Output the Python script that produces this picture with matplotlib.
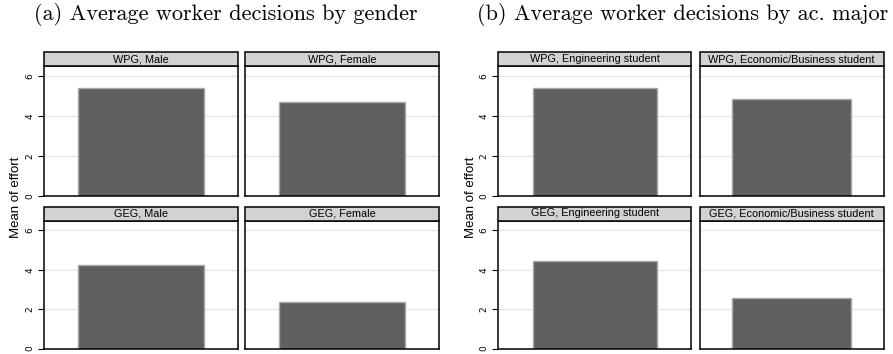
import numpy as np
import matplotlib
matplotlib.use("Agg")
import matplotlib.pyplot as plt
from matplotlib.patches import Rectangle

# panel data
gender_panels = ["WPG, Male", "WPG, Female", "GEG, Male", "GEG, Female"]
gender_effort = [5.42, 4.70, 4.26, 2.35]

major_panels = ["WPG, Engineering student", "WPG, Economic/Business student",
                "GEG, Engineering student", "GEG, Economic/Business student"]
major_effort = [5.40, 4.85, 4.42, 2.55]

y_ticks = [0, 2, 4, 6]

W, H = 893, 354
fig = plt.figure(figsize=(W / 100, H / 100), dpi=100)


def px_axes(x0, x1, y0, y1):
    # pixel box (top-left origin) -> figure fraction
    return fig.add_axes([x0 / W, 1 - y1 / H, (x1 - x0) / W, (y1 - y0) / H])


def draw_panel(ax, label, value, show_ticks=True):
    ax.set_xlim(-0.775, 0.775)
    ax.set_ylim(0, 6.5)
    for t in y_ticks[1:]:
        ax.axhline(t, color="#e6e6e6", lw=1, zorder=0)
    ax.bar([0], [value], width=1.0, color="#5f5f5f", edgecolor="#a8a8a8",
           linewidth=1, zorder=2)
    ax.set_xticks([])
    ax.set_yticks(y_ticks)
    if show_ticks:
        ax.set_yticklabels([str(t) for t in y_ticks], rotation=90, va="center",
                           fontsize=6.5)
        ax.tick_params(axis="y", length=4, width=0.8, pad=3)
    else:
        ax.tick_params(axis="y", length=0, labelleft=False)
    for s in ax.spines.values():
        s.set_linewidth(1.1)
        s.set_color("black")
    strip_h = 14 / ((ax.get_position().height) * H)
    ax.add_patch(Rectangle((0, 1), 1, strip_h, transform=ax.transAxes,
                           facecolor="#d2d2d2", edgecolor="black", lw=1.1,
                           clip_on=False, zorder=3))
    ax.text(0.5, 1 + strip_h / 2, label, transform=ax.transAxes, ha="center",
            va="center", fontsize=7.8, family="Liberation Sans", zorder=4)


def draw_block(cols, labels, values, title, title_x, ylab_x):
    rows = [(66, 196), (220.5, 348.5)]
    k = 0
    for r, (y0, y1) in enumerate(rows):
        for c, (x0, x1) in enumerate(cols):
            ax = px_axes(x0, x1, y0, y1)
            draw_panel(ax, labels[k], values[k], show_ticks=(c == 0))
            k += 1
    fig.text(title_x / W, 1 - 15 / H, title, ha="center", va="center",
             fontsize=16, family="cmr10")
    fig.text(ylab_x / W, 1 - 197 / H, "Mean of effort", rotation=90,
             ha="center", va="center", fontsize=9.5, family="Liberation Sans")


draw_block([(44, 238), (245, 439)], gender_panels, gender_effort,
           "(a) Average worker decisions by gender", 226, 16)
draw_block([(498.5, 691), (699.5, 884)], major_panels, major_effort,
           "(b) Average worker decisions by ac. major", 683, 471)

fig.savefig("out.png", dpi=100)
